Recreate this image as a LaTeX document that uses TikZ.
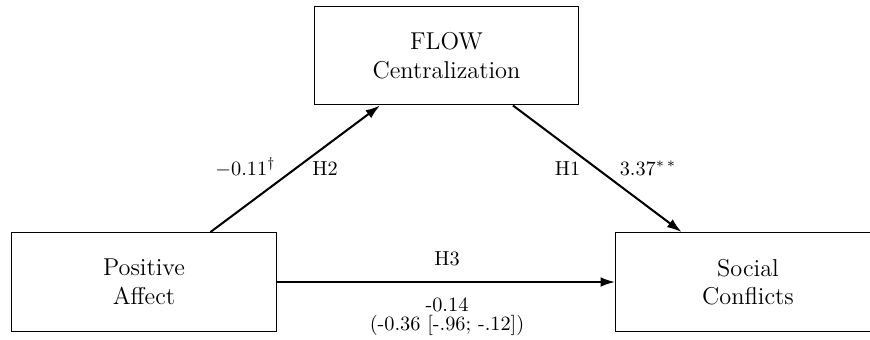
\documentclass[tikz,border=0pt]{standalone}
\usetikzlibrary{calc,arrows.meta}
\begin{document}
\begin{tikzpicture}[x=0.4926pt,y=-0.4926pt,
  box/.style={draw,line width=0.6pt,minimum width=130.3pt,minimum height=48.6pt,align=center,font=\large,inner sep=0pt},
  arr/.style={line width=1pt,-{Latex[length=7.2pt,width=4.8pt]}},
  lab/.style={anchor=base,inner sep=0pt}]
\useasboundingbox (0,0) rectangle (870,339);
\node[box] (flow) at (446.5,55.5) {FLOW\\Centralization};
\node[box] (pa) at (144,282) {Positive\\Affect};
\node[box] (sc) at (748,282) {Social\\Conflicts};
\coordinate (a1) at ($(pa.north)!0.5!(pa.north east)$);
\coordinate (a2) at ($(flow.south)!0.5!(flow.south west)$);
\coordinate (b1) at ($(flow.south)!0.5!(flow.south east)$);
\coordinate (b2) at ($(sc.north)!0.5!(sc.north west)$);
\draw[arr] (a1) -- (a2);
\draw[arr] (b1) -- (b2);
\draw[arr] (pa.east) -- (sc.west);
\node[lab] (l1) at (245.5,175) {$-0.11^{\dagger}$};
\node[lab] (l2) at (325,175) {H2};
\node[lab] (l3) at (567.5,175) {H1};
\node[lab] (l4) at (648,175) {$3.37^{*\,*}$};
\node[lab] (l5) at (447,265) {H3};
\node[lab] (l6) at (447,311) {-0.14};
\node[lab] (l7) at (447,330) {(-0.36 [-.96; -.12])};
\end{tikzpicture}
\end{document}
